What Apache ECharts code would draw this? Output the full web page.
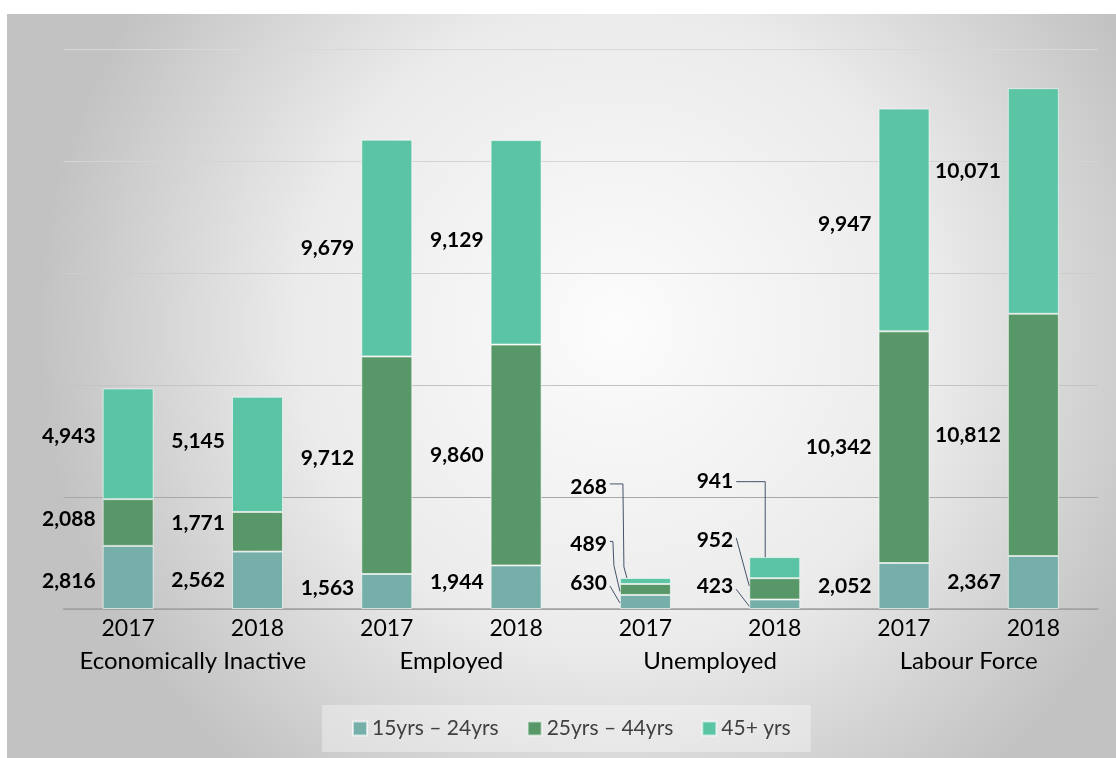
<!DOCTYPE html>
<html>
<head>
<meta charset="utf-8">
<script src="https://cdn.jsdelivr.net/npm/echarts@6/dist/echarts.min.js"></script>
<style>
html, body { margin: 0; padding: 0; background: #fff; }
#chart { width: 1116px; height: 758px; }
</style>
</head>
<body>
<div id="chart"></div>
<script>
var years = ['2017', '2018', '2017', '2018', '2017', '2018', '2017', '2018'];
var groups = ['Economically Inactive', 'Employed', 'Unemployed', 'Labour Force'];
var age15to24 = [2816, 2562, 1563, 1944, 630, 423, 2052, 2367];
var age25to44 = [2088, 1771, 9712, 9860, 489, 952, 10342, 10812];
var age45plus = [4943, 5145, 9679, 9129, 268, 941, 9947, 10071];
var seriesNames = ['15yrs \u2013 24yrs', '25yrs \u2013 44yrs', '45+ yrs'];
var colors = ['#76afa9', '#589868', '#5bc4a4'];
var allValues = [age15to24, age25to44, age45plus];

// vertical nudges of the data labels, per series and bar
var labelShift = [
    [4, 0, -3, -5, -19, -18, 0, 0],
    [-3, -9, -7, 0, -45, -49, 0, 0],
    [-8, -13, 0, -2, -94, -86, 4, -30]
];
var BAR_W = 51;

var myChart = echarts.init(document.getElementById('chart'));

function labelDx(i) {
    if (i === 4) return -6;
    if (i === 5) return -9;
    return 0;
}

function makeSeries(k, values) {
    return {
        name: seriesNames[k],
        type: 'bar',
        stack: 'total',
        barWidth: BAR_W,
        itemStyle: {
            color: colors[k],
            borderColor: 'rgba(255,255,255,0.6)',
            borderWidth: 1
        },
        label: {
            show: true,
            position: 'left',
            distance: 7,
            color: '#000',
            fontFamily: 'Lato',
            fontWeight: 'bold',
            fontSize: 21,
            formatter: function (p) {
                return p.value.toLocaleString('en-US');
            }
        },
        labelLayout: function (params) {
            return { dx: labelDx(params.dataIndex), dy: labelShift[k][params.dataIndex] };
        },
        data: values
    };
}

var background = {
    type: 'rect',
    id: 'bg',
    z: -100,
    shape: { x: 7, y: 14, width: 1109, height: 744 },
    style: {
        fill: {
            type: 'radial', x: 0.55, y: 0.42, r: 0.78,
            colorStops: [
                { offset: 0, color: '#fcfcfc' },
                { offset: 0.55, color: '#ebebeb' },
                { offset: 1, color: '#c2c2c2' }
            ]
        },
        shadowColor: 'rgba(0,0,0,0.25)',
        shadowBlur: 3
    }
};

var option = {
    animation: false,
    graphic: [background],
    grid: {
        left: 63.5,
        right: 18,
        top: 49,
        bottom: 149
    },
    legend: {
        bottom: 6,
        left: 322,
        itemWidth: 14,
        itemHeight: 14,
        itemGap: 28,
        padding: [13, 20, 13, 30],
        backgroundColor: 'rgba(255,255,255,0.35)',
        icon: 'rect',
        textStyle: { color: '#404040', fontSize: 21, fontFamily: 'Lato' },
        data: seriesNames
    },
    xAxis: [{
        type: 'category',
        data: years,
        axisLine: { lineStyle: { color: '#a0a0a0', width: 1.5 } },
        axisTick: { show: false },
        axisLabel: { color: '#000', fontSize: 23, fontFamily: 'Lato', margin: 8 }
    }, {
        type: 'category',
        data: groups,
        position: 'bottom',
        offset: 32,
        axisLine: { show: false },
        axisTick: { show: false },
        axisLabel: { color: '#000', fontSize: 24, fontFamily: 'Lato', margin: 8, interval: 0 }
    }],
    yAxis: {
        type: 'value',
        min: 0,
        max: 25000,
        interval: 5000,
        axisLabel: { show: false },
        axisLine: { show: false },
        axisTick: { show: false },
        splitLine: {
            lineStyle: {
                color: ['#a8a8a8', '#a8a8a8', '#c4c4c4', '#cdcdcd', '#d4d4d4', '#d8d8d8'],
                width: 1.2
            }
        }
    },
    series: [
        makeSeries(0, age15to24),
        makeSeries(1, age25to44),
        makeSeries(2, age45plus)
    ]
};

myChart.setOption(option);

// leader lines from the moved labels to the small Unemployed bars
var leaders = [];
[4, 5].forEach(function (i) {
    var cum = 0;
    for (var k = 0; k < 3; k++) {
        var v = allValues[k][i];
        var bot = myChart.convertToPixel({ xAxisIndex: 0, yAxisIndex: 0 }, [i, cum]);
        var top = myChart.convertToPixel({ xAxisIndex: 0, yAxisIndex: 0 }, [i, cum + v]);
        cum += v;
        var left = bot[0] - BAR_W / 2;
        var mid = (bot[1] + top[1]) / 2;
        var ly = mid + labelShift[k][i];
        var sx = left - 7 + labelDx(i) + 3;
        var pts;
        if (k === 0) {
            pts = [[sx, ly + 3], [left, mid + (i === 4 ? 1 : 2)]];
        } else if (k === 1) {
            pts = i === 4
                ? [[sx, ly - 3], [sx + 3, ly - 3], [sx + 4, mid - 24], [left, mid + 2]]
                : [[sx, ly - 2], [left, mid - 3]];
        } else {
            pts = i === 4
                ? [[sx, ly - 3], [left + 3, ly - 3], [left + 4, top[1] - 11], [left + 7, top[1]]]
                : [[sx, ly], [left + 16, ly], [left + 16, top[1]]];
        }
        leaders.push({
            type: 'polyline',
            id: 'leader' + i + '_' + k,
            z: 100,
            silent: true,
            shape: { points: pts },
            style: { stroke: '#44546a', lineWidth: 1, fill: null }
        });
    }
});
myChart.setOption({ graphic: [background].concat(leaders) });
</script>
</body>
</html>
